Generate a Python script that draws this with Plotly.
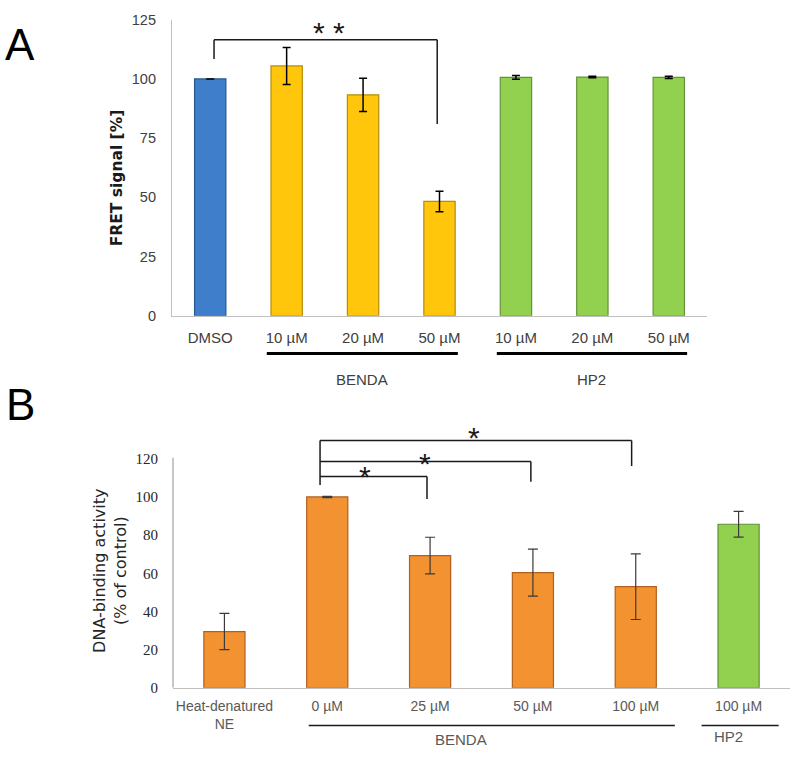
import plotly.graph_objects as go

# --- Panel A data (FRET signal) ---
a_labels = ["DMSO", "10 µM", "20 µM", "50 µM", "10 µM", "20 µM", "50 µM"]
a_values = [100.0, 105.5, 93.3, 48.3, 100.7, 100.8, 100.7]
a_errors = [0.0, 7.8, 7.0, 4.3, 0.8, 0.3, 0.5]
a_colors = ["#3f7ecb", "#ffc60b", "#ffc60b", "#ffc60b", "#92d050", "#92d050", "#92d050"]
a_borders = ["#27568f", "#b58d0c", "#b58d0c", "#b58d0c", "#62923a", "#62923a", "#62923a"]
a_yticks = [0, 25, 50, 75, 100, 125]

# --- Panel B data (DNA-binding activity) ---
b_labels = ["Heat-denatured<br>NE", "0 µM", "25 µM", "50 µM", "100 µM", "100 µM"]
b_values = [29.5, 100.0, 69.3, 60.4, 53.0, 85.7]
b_errors = [9.5, 0.3, 9.6, 12.3, 17.2, 6.7]
b_colors = ["#f39230", "#f39230", "#f39230", "#f39230", "#f39230", "#92d050"]
b_borders = ["#b05f1c", "#b05f1c", "#b05f1c", "#b05f1c", "#b05f1c", "#5f8f36"]
b_yticks = [0, 20, 40, 60, 80, 100, 120]

W, H = 800, 759


def px(x):
    return x / W


def py(y):
    return 1 - y / H


SANS = "Liberation Sans, Arial, sans-serif"
WIDE = "DejaVu Sans, sans-serif"
SERIF = "Liberation Serif, Times New Roman, serif"

fig = go.Figure()

fig.add_trace(go.Bar(
    x=list(range(len(a_values))), y=a_values, width=0.41,
    marker=dict(color=a_colors, line=dict(color=a_borders, width=1.2)),
    error_y=dict(type="data", array=a_errors, color="black", thickness=1.5, width=4),
    xaxis="x", yaxis="y", showlegend=False,
))

fig.add_trace(go.Bar(
    x=list(range(len(b_values))), y=b_values, width=0.4,
    marker=dict(color=b_colors, line=dict(color=b_borders, width=1.2)),
    error_y=dict(type="data", array=b_errors, color="#3a3a3a", thickness=1.2, width=5),
    xaxis="x2", yaxis="y2", showlegend=False,
))

shapes = []
annotations = []


def note(text, x, y, size, color, xref="paper", yref="paper", family=SANS, angle=0):
    annotations.append(dict(text=text, xref=xref, yref=yref, x=x, y=y, showarrow=False,
                            xanchor="center", yanchor="middle", textangle=angle,
                            font=dict(family=family, size=size, color=color)))


# Panel A significance bracket
for x0, y0, x1, y1 in [(0.05, 108.4, 0.05, 116.6), (0.05, 116.6, 2.97, 116.6), (2.97, 116.6, 2.97, 81)]:
    shapes.append(dict(type="line", xref="x", yref="y", x0=x0, y0=y0, x1=x1, y1=y1,
                       line=dict(color="#1a1a1a", width=1.5)))
note("* *", 1.55, py(25.5), 30, "#1a1a1a", xref="x")

# Panel A group lines and labels
for x0, x1, lab in [(0.74, 3.24, "BENDA"), (3.75, 6.24, "HP2")]:
    shapes.append(dict(type="line", xref="x", yref="paper", x0=x0, x1=x1, y0=py(353), y1=py(353),
                       line=dict(color="black", width=3)))
    note(lab, (x0 + x1) / 2, py(380), 15, "#404040", xref="x")

# Panel B significance brackets
shapes.append(dict(type="line", xref="x2", yref="y2", x0=0.93, x1=0.93, y0=129.6, y1=106.3,
                   line=dict(color="#1a1a1a", width=1.5)))
for xr, ytop, ybot in [(1.97, 110.7, 98.9), (2.98, 118.6, 108.0), (3.96, 129.6, 116.2)]:
    shapes.append(dict(type="line", xref="x2", yref="y2", x0=0.93, x1=xr, y0=ytop, y1=ytop,
                       line=dict(color="#1a1a1a", width=1.5)))
    shapes.append(dict(type="line", xref="x2", yref="y2", x0=xr, x1=xr, y0=ytop, y1=ybot,
                       line=dict(color="#1a1a1a", width=1.5)))
for xs, ys in [(1.37, 479), (1.95, 465), (2.43, 439)]:
    note("*", xs, py(ys), 30, "#1a1a1a", xref="x2")

# Panel B y axis line (stops at 120)
shapes.append(dict(type="line", xref="x2 domain", yref="y2", x0=0, x1=0, y0=0, y1=120.5,
                   line=dict(color="#a0a0a0", width=1.2)))

# Panel B group lines and labels
for x0, x1, lab, lx, ly in [(0.82, 4.38, "BENDA", 2.30, 747), (4.64, 5.39, "HP2", 4.90, 744)]:
    shapes.append(dict(type="line", xref="x2", yref="paper", x0=x0, x1=x1, y0=py(733), y1=py(733),
                       line=dict(color="#1a1a1a", width=1.5)))
    note(lab, lx, py(ly), 15, "#595959", xref="x2")

# Panel letters and axis titles
note("A", px(20), py(37), 44, "black")
note("B", px(20), py(405), 44, "black")
note("<b>FRET signal [%]</b>", px(117), py(174), 15.5, "#1a1a1a", family=WIDE, angle=-90)
note("DNA-binding activity<br>(% of control)", px(110), py(575), 16, "#262626", family=WIDE, angle=-90)

fig.update_layout(
    width=W, height=H,
    margin=dict(l=0, r=0, t=0, b=0),
    paper_bgcolor="white", plot_bgcolor="white",
    bargap=0.6,
    shapes=shapes, annotations=annotations,
    xaxis=dict(domain=[px(172), px(707)], range=[-0.5, 6.5], anchor="y",
               tickvals=list(range(len(a_labels))), ticktext=a_labels,
               showline=True, linecolor="#bfbfbf", linewidth=1.2, showgrid=False, zeroline=False,
               ticks="", ticklabelstandoff=8, tickfont=dict(family=SANS, size=15, color="#404040")),
    yaxis=dict(domain=[py(314.5), py(12)], range=[0, 125], anchor="x",
               tickvals=a_yticks, showline=True, linecolor="#bfbfbf", linewidth=1.2,
               showgrid=False, zeroline=False, ticks="", ticklabelstandoff=12,
               tickfont=dict(family=SANS, size=14.5, color="#404040")),
    xaxis2=dict(domain=[px(173), px(790)], range=[-0.5, 5.5], anchor="y2",
                tickvals=list(range(len(b_labels))), ticktext=b_labels,
                showline=True, linecolor="#bfbfbf", linewidth=1.2, showgrid=False, zeroline=False,
                ticks="", ticklabelstandoff=5, tickfont=dict(family=SANS, size=14, color="#595959")),
    yaxis2=dict(domain=[py(694.5), py(694.5 - 140 * 1.95)], range=[0, 140], anchor="x2",
                tickvals=b_yticks, showline=False, showgrid=False, zeroline=False, ticks="",
                ticklabelstandoff=14, tickfont=dict(family=SERIF, size=15, color="#262626")),
)

# pin the figure to the window origin (the page otherwise adds its own margins)
pin = ("document.body.style.margin='0';document.body.style.overflow='hidden';"
       "var d=document.querySelector('.plotly-graph-div');"
       "d.style.position='fixed';d.style.top='0';d.style.left='0';")
fig.write_html("out.html", config={"displayModeBar": False}, post_script=pin)
